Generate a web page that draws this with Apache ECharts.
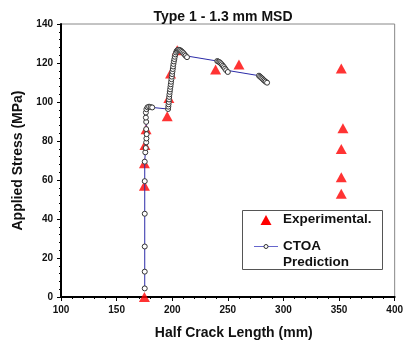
<!DOCTYPE html>
<html><head><meta charset="utf-8">
<script src="https://cdn.jsdelivr.net/npm/echarts@6/dist/echarts.min.js"></script>
<style>html,body{margin:0;padding:0;background:#fff}#c{width:406px;height:345px}</style>
</head><body><div id="c"></div>
<script>
const titleText = 'Type 1 - 1.3 mm MSD';
const xName = 'Half Crack Length (mm)';
const yName = 'Applied Stress (MPa)';
const xTicks = [100, 150, 200, 250, 300, 350, 400];
const yTicks = [0, 20, 40, 60, 80, 100, 120, 140];
const experimental = [[175,0],[175,57],[175,68.6],[175.5,78],[176.5,86],[195.5,92.7],[197,102],[198.5,114.6],[204.5,126.5],[239,116.7],[260,119.2],[352,117.2],[353.5,86.6],[352,75.9],[352,61.4],[352,52.9]];
const ctoa = [[175.3,4.4],[175.3,13],[175.3,25.9],[175.3,42.7],[175.3,59.4],[175.3,69.4],[175.8,74.2],[176.2,76.4],[176.6,79.3],[176.8,81.3],[177,83.5],[176.6,86.1],[176.6,89.8],[176.3,92],[176.3,94.6],[176.8,96.3],[177.8,97.3],[179.2,97.6],[180.6,97.4],[182,97.2],[196.3,96.4],[196.5,97.6],[196.7,98.8],[196.9,100],[197.1,101.3],[197.3,102.6],[197.5,103.9],[197.8,105.2],[198.1,106.5],[198.4,107.8],[198.7,109.1],[199,110.4],[199.3,111.7],[199.6,113],[199.9,114.3],[200.2,115.6],[200.5,116.9],[200.8,118.2],[201.1,119.5],[201.5,120.8],[201.9,122],[202.3,123.2],[202.8,124.4],[203.4,125.4],[204.1,126.2],[205,126.7],[206,126.8],[207,126.6],[208,126.2],[209,125.7],[210,125.1],[211,124.4],[212,123.7],[213.3,123],[240.5,121],[241.5,120.7],[242.5,120.4],[243.5,119.9],[244.5,119.3],[245.5,118.6],[246.5,117.9],[247.5,117.1],[248.5,116.3],[250,115.4],[278,113.5],[279,113],[280,112.5],[281,112],[282,111.4],[283,110.9],[284,110.4],[285.3,109.9]];
const legendNames = ['Experimental.', 'CTOA\nPrediction'];

const FONT = 'Liberation Sans, Arial, sans-serif';
const chart = echarts.init(document.getElementById('c'), null, {renderer: 'canvas'});
const lineColor = '#2b2ba8';
chart.setOption({
  animation: false,
  title: {text: titleText, left: 218, top: 5, textAlign: 'center',
    textStyle: {fontFamily: FONT, fontWeight: 'bold', fontSize: 14, color: '#111'}},
  grid: {left: 61, right: 7, top: 24, bottom: 46, show: true, borderColor: '#888', borderWidth: 1},
  xAxis: {type: 'value', min: xTicks[0], max: xTicks[xTicks.length-1], interval: 50,
    name: xName, nameLocation: 'middle', nameGap: 29,
    nameTextStyle: {fontFamily: FONT, fontWeight: 'bold', fontSize: 14, color: '#111', padding: [0, 0, 0, 12]},
    axisLine: {lineStyle: {color: '#000', width: 2}},
    axisTick: {length: 4, lineStyle: {color: '#000'}},
    minorTick: {show: true, splitNumber: 5, length: 2, lineStyle: {color: '#000'}},
    splitLine: {show: false},
    axisLabel: {fontFamily: FONT, fontWeight: 'bold', fontSize: 10, color: '#111', margin: 8}},
  yAxis: {type: 'value', min: yTicks[0], max: yTicks[yTicks.length-1], interval: 20,
    name: yName, nameLocation: 'middle', nameGap: 36,
    nameTextStyle: {fontFamily: FONT, fontWeight: 'bold', fontSize: 14, color: '#111'},
    axisLine: {lineStyle: {color: '#000', width: 2}},
    axisTick: {length: 4, lineStyle: {color: '#000'}},
    minorTick: {show: true, splitNumber: 5, length: 2, lineStyle: {color: '#000'}},
    splitLine: {show: false},
    axisLabel: {fontFamily: FONT, fontWeight: 'bold', fontSize: 10, color: '#111', margin: 8}},
  series: [
    {name: legendNames[0], type: 'scatter', data: experimental, symbol: 'triangle',
      symbolSize: [11, 10], clip: false, itemStyle: {color: '#ff0000'}, z: 3},
    {name: legendNames[1], type: 'line', data: ctoa, symbol: 'circle', symbolSize: 5,
      showAllSymbol: true, clip: false,
      lineStyle: {color: lineColor, width: 1},
      itemStyle: {color: '#fff', borderColor: '#333', borderWidth: 1}, z: 4}
  ],
  graphic: [
    {type: 'rect', shape: {x: 242.5, y: 210.5, width: 140, height: 59},
      style: {fill: '#fff', stroke: '#555', lineWidth: 1}, z: 10},
    {type: 'polygon', shape: {points: [[266, 215], [260.5, 225], [271.5, 225]]},
      style: {fill: '#ff0000'}, z: 11},
    {type: 'text', left: 283, top: 212, z: 11,
      style: {text: legendNames[0], font: 'bold 13.5px ' + FONT, fill: '#111'}},
    {type: 'line', shape: {x1: 254, y1: 246.5, x2: 278, y2: 246.5},
      style: {stroke: '#6666cc', lineWidth: 1}, z: 11},
    {type: 'circle', shape: {cx: 266, cy: 246.5, r: 2},
      style: {fill: '#fff', stroke: '#333', lineWidth: 1}, z: 12},
    {type: 'text', left: 283, top: 238, z: 11,
      style: {text: legendNames[1], font: 'bold 13.5px ' + FONT, fill: '#111', lineHeight: 16}}
  ]
});
</script></body></html>
